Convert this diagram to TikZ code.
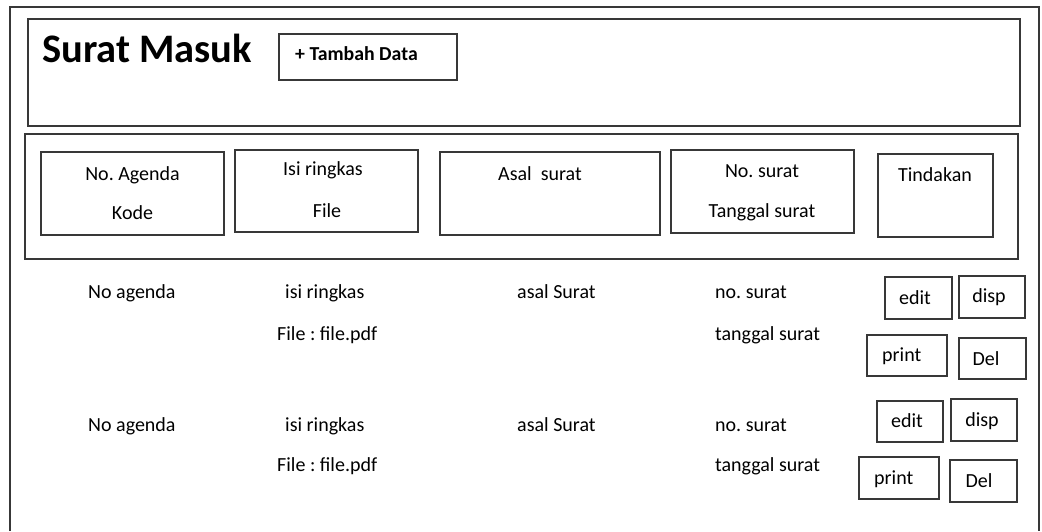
\documentclass[tikz,border=0pt]{standalone}
\usepackage{fontspec}
\setmainfont{Carlito}
\frenchspacing
\tikzset{
  frame/.style={draw=black!78, line width=1.6pt},
  lbl/.style={inner sep=0pt, font=\fontsize{20}{24}\selectfont, text=black},
  title/.style={inner sep=0pt, font=\fontsize{40.5}{48}\selectfont\bfseries, text=black},
  addlbl/.style={inner sep=0pt, font=\fontsize{19.8}{23}\selectfont\bfseries, text=black},
}
\begin{document}
\begin{tikzpicture}[x=1pt,y=-1pt]
\useasboundingbox[fill=white] (0,0) rectangle (1042,531);

% page frame (open at the bottom)
\draw[frame] (10,531) -- (10,7) -- (1039,7) -- (1039,531);

% header panel
\draw[frame] (28,19) rectangle (1020,126);
\node[title, anchor=base west] (title) at (42,62) {Surat Masuk};
\draw[frame] (279,34) rectangle (457,80);
\node[addlbl, anchor=base west] (add) at (295,60) {+ Tambah Data};

% column header panel
\draw[frame] (25,134) rectangle (1018,259);
\draw[frame] (41,152) rectangle (224,235);
\draw[frame] (235,150) rectangle (418,232);
\draw[frame] (440,152) rectangle (660,235);
\draw[frame] (671,150) rectangle (854,233);
\draw[frame] (878,154) rectangle (993,237);

\node[lbl, anchor=base] (hAgenda) at (132.5,180) {No. Agenda};
\node[lbl, anchor=base] (hKode)   at (132.5,219) {Kode};
\node[lbl, anchor=base] (hIsi)    at (323,175) {Isi ringkas};
\node[lbl, anchor=base] (hFile)   at (327,217) {File};
\node[lbl, anchor=base west] (hAsal) at (498,180) {Asal\ \ surat};
\node[lbl, anchor=base] (hNo)     at (762,177) {No. surat};
\node[lbl, anchor=base] (hTgl)    at (762,217) {Tanggal surat};
\node[lbl, anchor=base] (hAksi)   at (935,181) {Tindakan};

% data row 1
\node[lbl, anchor=base west] (r1agenda) at (88,298) {No agenda};
\node[lbl, anchor=base west] (r1isi)    at (285,298) {isi ringkas};
\node[lbl, anchor=base west] (r1file)   at (277,340) {File : file.pdf};
\node[lbl, anchor=base west] (r1asal)   at (517,298) {asal Surat};
\node[lbl, anchor=base west] (r1no)     at (715,298) {no. surat};
\node[lbl, anchor=base west] (r1tgl)    at (715,340) {tanggal surat};

% data row 2
\node[lbl, anchor=base west] (r2agenda) at (88,431) {No agenda};
\node[lbl, anchor=base west] (r2isi)    at (285,431) {isi ringkas};
\node[lbl, anchor=base west] (r2file)   at (277,471) {File : file.pdf};
\node[lbl, anchor=base west] (r2asal)   at (517,431) {asal Surat};
\node[lbl, anchor=base west] (r2no)     at (715,431) {no. surat};
\node[lbl, anchor=base west] (r2tgl)    at (715,471) {tanggal surat};

% action buttons, row 1
\draw[frame] (885,277) rectangle (952,319);
\draw[frame] (959,276) rectangle (1025,318);
\draw[frame] (867,335) rectangle (947,376);
\draw[frame] (959,338) rectangle (1026,379);
\node[lbl, anchor=base] (r1edit)  at (915,304) {edit};
\node[lbl, anchor=base] (r1disp)  at (989,302) {disp};
\node[lbl, anchor=base west] (r1print) at (882,361) {print};
\node[lbl, anchor=base] (r1del)   at (986,365) {Del};

% action buttons, row 2
\draw[frame] (877,401) rectangle (943,442);
\draw[frame] (951,399) rectangle (1017,441);
\draw[frame] (859,457) rectangle (939,499);
\draw[frame] (950,460) rectangle (1017,502);
\node[lbl, anchor=base] (r2edit)  at (907,427) {edit};
\node[lbl, anchor=base] (r2disp)  at (982,426) {disp};
\node[lbl, anchor=base west] (r2print) at (874,484) {print};
\node[lbl, anchor=base] (r2del)   at (979,487) {Del};
\end{tikzpicture}
\end{document}
